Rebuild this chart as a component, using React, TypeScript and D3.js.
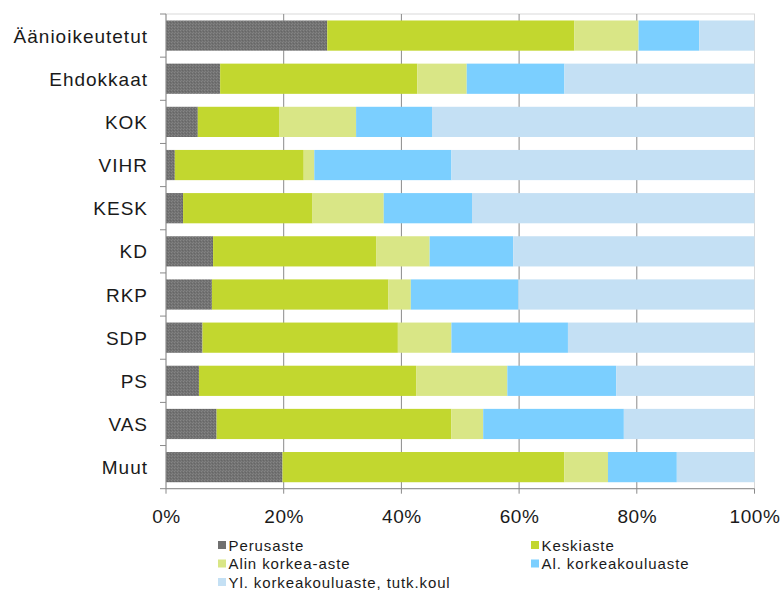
import React from "react";
import * as d3 from "d3";

const categories = ["Äänioikeutetut", "Ehdokkaat", "KOK", "VIHR", "KESK", "KD", "RKP", "SDP", "PS", "VAS", "Muut"];
const seriesNames = ["Perusaste", "Keskiaste", "Alin korkea-aste", "Al. korkeakouluaste", "Yl. korkeakouluaste, tutk.koul"];
const perusaste = [27.4, 9.2, 5.4, 1.5, 2.9, 8.0, 7.8, 6.2, 5.6, 8.6, 19.8];
const keskiaste = [42.0, 33.5, 13.8, 21.9, 22.0, 27.7, 30.0, 33.2, 36.9, 39.9, 47.9];
const alinKorkea = [10.9, 8.4, 13.1, 1.8, 12.1, 9.1, 3.8, 9.1, 15.5, 5.4, 7.4];
const alKorkeakoulu = [10.3, 16.6, 12.9, 23.3, 15.0, 14.2, 18.3, 19.8, 18.5, 23.9, 11.7];
const ylKorkeakoulu = [9.4, 32.3, 54.8, 51.5, 48.0, 41.0, 40.1, 31.7, 23.5, 22.2, 13.2];
const xTicks = [0, 20, 40, 60, 80, 100];

const colors = ["url(#perusPattern)", "#c2d72f", "#d9e686", "#7bcfff", "#c4e0f4"];
const legendColors = ["#707070", "#c2d72f", "#d9e686", "#7bcfff", "#c4e0f4"];

const W = 784, H = 592;
const left = 166, right = 754.5, top = 14, bottom = 488.7;
const FONT = "'Liberation Sans', Arial, sans-serif";

export default function App() {
  const seriesData = [perusaste, keskiaste, alinKorkea, alKorkeakoulu, ylKorkeakoulu];
  const rows = categories.map((c, i) => {
    const o: any = { cat: c };
    seriesNames.forEach((s, k) => (o[s] = seriesData[k][i]));
    return o;
  });
  const stack = d3.stack<any>().keys(seriesNames);
  const stacked = stack(rows);
  const x = d3.scaleLinear().domain([0, 100]).range([left, right]);
  const y = d3.scaleBand().domain(categories).range([top, bottom]).paddingInner(0.3).paddingOuter(0.15);
  const step = y.step();
  const boundaries = d3.range(categories.length + 1).map((i) => top + i * step);

  const legendItems = [
    { k: 0, x: 218, y: 545 },
    { k: 1, x: 531, y: 545 },
    { k: 2, x: 218, y: 563.5 },
    { k: 3, x: 531, y: 563.5 },
    { k: 4, x: 218, y: 582 },
  ];

  return (
    <svg width={W} height={H} style={{ position: "absolute", left: 0, top: 0, background: "#fff" }}>
      <defs>
        <pattern id="perusPattern" width="3" height="3" patternUnits="userSpaceOnUse">
          <rect width="3" height="3" fill="#727272" />
          <rect x="0" y="0" width="1" height="1" fill="#858585" />
          <rect x="2" y="1" width="1" height="1" fill="#666666" />
          <rect x="1" y="2" width="1" height="1" fill="#808080" />
        </pattern>
      </defs>
      {/* plot border */}
      <rect x={left} y={top} width={right - left} height={bottom - top} fill="none" stroke="#d9d9d9" strokeWidth={1} />
      {/* gridlines */}
      {xTicks.filter((t) => t > 0 && t < 100).map((t) => (
        <line key={t} x1={x(t)} x2={x(t)} y1={top} y2={bottom} stroke="#8a8a8a" strokeWidth={1} />
      ))}
      {/* bars */}
      {stacked.map((s, k) =>
        s.map((d, i) => (
          <rect
            key={k + "-" + i}
            x={x(d[0])}
            width={x(d[1]) - x(d[0])}
            y={y(categories[i])}
            height={y.bandwidth()}
            fill={colors[k]}
          />
        ))
      )}
      {/* y axis */}
      <line x1={left} x2={left} y1={top} y2={bottom} stroke="#8a8a8a" />
      {boundaries.map((b, i) => (
        <line key={i} x1={left - 6} x2={left} y1={b} y2={b} stroke="#8a8a8a" />
      ))}
      {/* x axis */}
      <line x1={left} x2={right} y1={bottom} y2={bottom} stroke="#8a8a8a" />
      {xTicks.map((t) => (
        <line key={t} x1={x(t)} x2={x(t)} y1={bottom} y2={bottom + 5} stroke="#8a8a8a" />
      ))}
      {/* category labels */}
      {categories.map((c) => (
        <text
          key={c}
          x={148}
          y={(y(c) as number) + y.bandwidth() / 2 + 7}
          textAnchor="end"
          fontFamily={FONT}
          fontSize={19}
          letterSpacing={1.0}
          fill="#1a1a1a"
        >
          {c}
        </text>
      ))}
      {/* x tick labels */}
      {xTicks.map((t) => (
        <text
          key={t}
          x={x(t) + 0.5}
          y={522.5}
          textAnchor="middle"
          fontFamily={FONT}
          fontSize={19}
          letterSpacing={0.6}
          fill="#1a1a1a"
        >
          {t + "%"}
        </text>
      ))}
      {/* legend */}
      {legendItems.map((it) => (
        <g key={it.k}>
          <rect x={it.x} y={it.y - 4} width={8} height={8} fill={legendColors[it.k]} />
          <text x={it.x + 10.5} y={it.y + 5.5} fontFamily={FONT} fontSize={15} letterSpacing={0.9} fill="#1a1a1a">
            {seriesNames[it.k]}
          </text>
        </g>
      ))}
    </svg>
  );
}
